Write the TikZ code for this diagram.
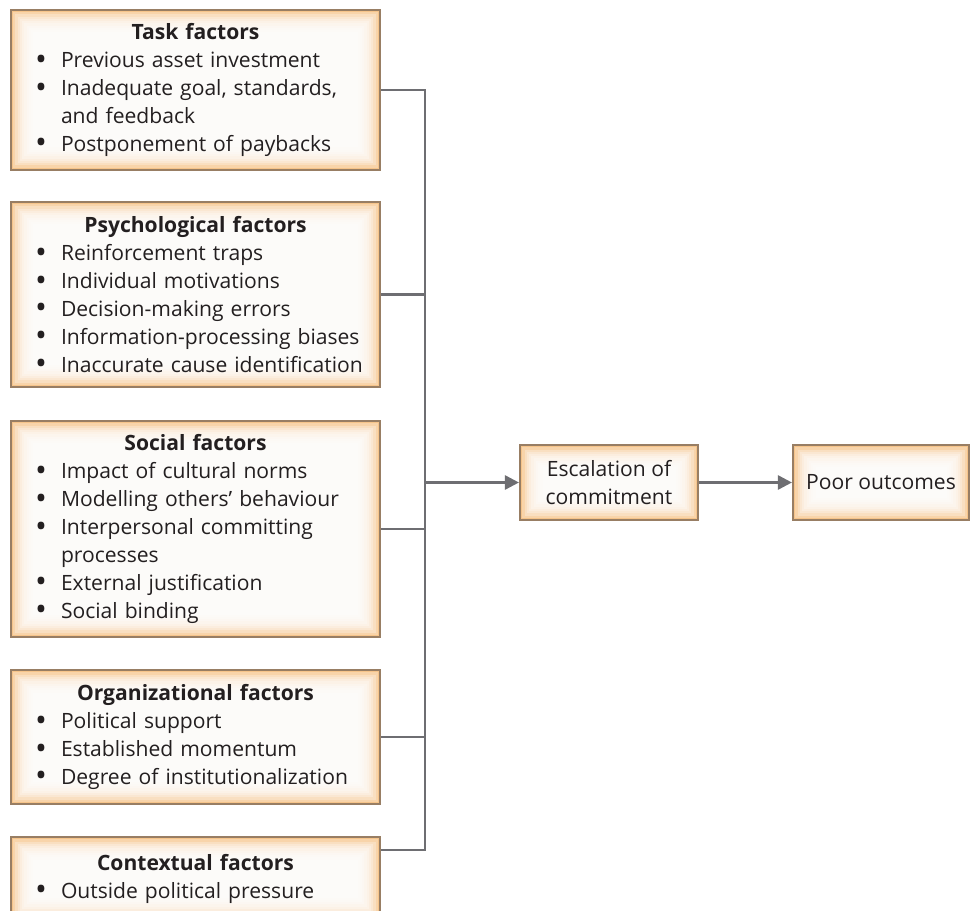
\documentclass[tikz,border=0pt]{standalone}
\usepackage{fontspec}
\setmainfont{Open Sans}
\usepackage{tikz}
\usetikzlibrary{arrows.meta,positioning}

\definecolor{boxedge}{RGB}{246,196,138}
\definecolor{boxline}{RGB}{152,126,100}
\definecolor{linkgray}{RGB}{110,110,114}
\definecolor{txt}{RGB}{35,31,32}

\hyphenpenalty=10000
\exhyphenpenalty=10000

\newcommand\ftitle[1]{{\centering\bfseries #1\par}}
\newcommand\fitem[1]{\noindent\hangindent=0.8cm\hangafter=1%
  \makebox[0.8cm][l]{\hspace{0.28cm}\smash{\raisebox{-0.12em}{\scalebox{1.5}{\textbullet}}}}#1\par}

\begin{document}
\begin{tikzpicture}[
    glow/.style={fill=boxedge, draw=boxline, line width=1.2pt, text=txt,
      font=\fontsize{12}{15.9}\selectfont,
      path picture={
        \foreach \i in {1,...,10}
          \fill[white, opacity=0.28]
            ([shift={(\i*0.045,-\i*0.045)}]path picture bounding box.north west) rectangle
            ([shift={(-\i*0.045,\i*0.045)}]path picture bounding box.south east);
      }},
    factor/.style={glow, minimum width=7.38cm, text width=6.98cm, inner xsep=0.2cm, align=left},
    result/.style={glow, minimum width=3.56cm, minimum height=1.5cm, align=center},
    link/.style={draw=linkgray, line width=1.5pt},
    arr/.style={link, -{Triangle[length=8pt,width=8pt]}}
]
\useasboundingbox (0,0) rectangle (19.42,-18.22);

\node[factor, minimum height=3.2cm] (task) at (3.91,-1.8) {%
  \ftitle{Task factors}
  \fitem{Previous asset investment}
  \fitem{Inadequate goal, standards, and feedback}
  \fitem{Postponement of paybacks}};
\node[factor, minimum height=3.7cm] (psy) at (3.91,-5.89) {%
  \ftitle{Psychological factors}
  \fitem{Reinforcement traps}
  \fitem{Individual motivations}
  \fitem{Decision-making errors}
  \fitem{Information-processing biases}
  \fitem{Inaccurate cause identification}};
\node[factor, minimum height=4.32cm] (soc) at (3.91,-10.58) {%
  \ftitle{Social factors}
  \fitem{Impact of cultural norms}
  \fitem{Modelling others' behaviour}
  \fitem{Interpersonal committing processes}
  \fitem{External justification}
  \fitem{Social binding}};
\node[factor, minimum height=2.68cm] (org) at (3.91,-14.74) {%
  \ftitle{Organizational factors}
  \fitem{Political support}
  \fitem{Established momentum}
  \fitem{Degree of institutionalization}};
\node[factor, minimum height=1.66cm] (ctx) at (3.91,-17.57) {%
  \ftitle{Contextual factors}
  \fitem{Outside political pressure}};

\node[result] (esc) at (12.18,-9.65) {Escalation of\\commitment};
\node[result, minimum width=3.52cm] (poor) at (17.62,-9.65) {Poor outcomes};

\coordinate (busT) at (8.5,-1.8);
\coordinate (busB) at (8.5,-17.0);

\draw[link] (task.east) -- (busT) -- (busB) -- (busB -| ctx.east);
\draw[link] (psy.east) -- (psy.east -| busT);
\draw[link] (soc.east) -- (soc.east -| busT);
\draw[link] (org.east) -- (org.east -| busT);
\draw[arr] (esc.west -| busT) -- (esc);
\draw[arr] (esc) -- (poor);
\end{tikzpicture}
\end{document}
